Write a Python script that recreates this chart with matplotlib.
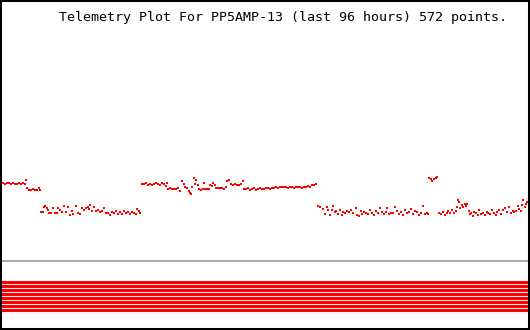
import matplotlib
matplotlib.use("Agg")
import matplotlib.pyplot as plt

# telemetry samples: time (hours into the 96 h window) and reading
hours = [
    0.2, 0.5, 0.9, 1.3, 1.6, 2.0, 2.4, 2.7, 3.1, 3.4, 3.8, 4.2, 4.5, 4.7,
    4.9, 5.3, 5.6, 6.0, 6.3, 6.7, 7.1, 7.2,
    7.4, 7.8, 8.0, 8.1, 8.5, 8.7, 8.9, 9.2, 9.6, 10.0, 10.3, 10.5, 10.9, 11.2,
    11.6, 12.0, 12.3, 12.7, 13.0, 13.2, 13.8, 14.1, 14.5, 14.9, 15.2, 15.6,
    15.9, 16.1, 16.3, 16.7, 17.0, 17.4, 17.7, 18.1, 18.5, 18.8, 19.2, 19.6,
    19.9, 20.3, 20.6, 21.0, 21.4, 21.7, 22.1, 22.5, 22.8, 23.2, 23.5, 23.9,
    24.3, 24.6, 24.8, 25.2, 25.4,
    25.7, 26.1, 26.4, 26.8, 27.2, 27.5, 27.9, 28.3, 28.6, 29.0, 29.3, 29.7,
    30.1, 30.2,
    30.4, 30.8, 31.2, 31.5, 31.9, 32.2, 32.6, 33.0, 33.3, 33.5, 33.9, 34.2,
    34.4, 34.6, 34.8, 35.1, 35.3, 35.5, 35.9, 36.0, 36.4, 36.8, 36.9, 37.1,
    37.5, 37.9, 38.0, 38.4, 38.6, 38.9, 39.1, 39.5, 39.8, 40.2, 40.6, 40.9,
    41.1, 41.5, 41.8, 42.2, 42.6, 42.9, 43.3, 43.6, 44.0, 44.2, 44.6, 44.9,
    45.3, 45.6, 46.0, 46.4, 46.7, 47.1, 47.5, 47.8, 48.2,
    48.5, 48.9, 49.3, 49.6, 50.0, 50.3, 50.7, 51.1, 51.4, 51.8, 52.2, 52.5,
    52.9, 53.2, 53.6, 54.0, 54.3, 54.7, 55.1, 55.4, 55.8, 56.1, 56.5, 56.9,
    57.2,
    57.6, 58.0, 58.5, 58.9, 59.2, 59.4, 59.8, 60.1, 60.3, 60.7, 60.9, 61.2,
    61.6, 61.9, 62.1, 62.5, 62.8, 63.2, 63.6, 63.9, 64.5, 64.7, 65.0, 65.4,
    65.6, 65.9, 66.3, 66.6, 67.0, 67.4, 67.7, 68.1, 68.5, 68.8, 69.2, 69.5,
    69.9, 70.1, 70.5, 70.8, 71.2, 71.5, 71.9, 72.3, 72.6, 73.0, 73.4, 73.7,
    74.1, 74.4, 74.8, 75.2, 75.5, 75.9, 76.3, 76.6, 77.0, 77.3, 77.5,
    77.7, 78.1, 78.2, 78.6, 79.0, 79.1,
    79.5, 79.9, 80.2, 80.6, 81.0, 81.1, 81.5, 81.9, 82.2, 82.6, 82.8, 82.9,
    83.1, 83.3, 83.7, 83.9, 84.2, 84.4, 84.6, 84.9, 85.1, 85.3, 85.7, 85.8,
    86.2, 86.6, 86.8, 87.1, 87.5, 87.8, 88.2, 88.4, 88.7, 89.1, 89.5, 89.8,
    90.0, 90.4, 90.7, 91.1, 91.5, 91.8, 92.2, 92.5, 92.9, 93.1, 93.5, 93.8,
    94.0, 94.4, 94.5, 94.7, 95.1, 95.3, 95.4,
]
reading = [
    77, 78, 77, 78, 78, 77, 78, 77, 77, 78, 77, 78, 77, 81,
    73, 71, 71, 72, 71, 71, 73, 71,
    49, 49, 54, 55, 53, 51, 48, 48, 53, 48, 48, 53, 51, 49,
    55, 49, 54, 46, 50, 47, 55, 48, 47, 53, 51, 53,
    54, 52, 56, 50, 54, 50, 51, 49, 50, 53, 48, 48,
    46, 49, 48, 50, 47, 49, 47, 50, 48, 49, 47, 49,
    48, 47, 52, 50, 48,
    77, 77, 78, 76, 77, 76, 77, 78, 77, 76, 78, 77,
    75, 78,
    72, 73, 72, 72, 72, 73, 70, 80, 77, 74, 73, 70,
    68, 67, 74, 83, 77, 81, 76, 72, 71, 72, 78, 72,
    72, 72, 76, 75, 78, 76, 73, 73, 73, 73, 72, 74,
    80, 81, 77, 76, 77, 76, 76, 77, 80, 72, 72, 73,
    71, 72, 73, 71, 72, 73, 72, 72, 73,
    73, 72, 73, 73, 74, 73, 74, 74, 74, 74, 73, 74,
    74, 73, 74, 74, 74, 73, 74, 74, 75, 74, 76, 76,
    77,
    55, 54, 52, 47, 54, 51, 46, 51, 55, 49, 50, 47,
    51, 46, 49, 48, 50, 49, 51, 48, 53, 46, 45, 50,
    47, 49, 48, 47, 51, 48, 46, 50, 48, 53, 49, 47,
    49, 53, 47, 48, 48, 54, 50, 47, 49, 46, 51, 48,
    49, 52, 47, 50, 49, 46, 48, 55, 47, 48, 47,
    83, 82, 80, 82, 83, 84,
    48, 47, 49, 46, 48, 50, 48, 51, 48, 50, 54, 61,
    59, 53, 56, 54, 57, 55, 57, 50, 47, 48, 45, 49,
    48, 46, 51, 47, 48, 46, 49, 48, 47, 51, 48, 46,
    49, 51, 47, 51, 53, 49, 54, 48, 50, 49, 50, 55,
    52, 50, 56, 61, 54, 57, 59,
]

# eight status bits, all set over the whole window
status_bits = [1, 1, 1, 1, 1, 1, 1, 1]

title = "Telemetry Plot For PP5AMP-13 (last 96 hours) 572 points."

fig = plt.figure(figsize=(5.3, 3.3), dpi=100)
ax = fig.add_axes([0, 0, 1, 1])
ax.set_xlim(0, 96)
ax.set_ylim(-69, 261)

ax.plot(hours, reading, ls="none", marker="s", ms=1.6, mew=0, color="red")

# zero line
ax.axhline(0, color="#aaaaaa", lw=1.5)

# status bit stripes
for i, b in enumerate(status_bits):
    if b:
        ax.axhline(-20.5 - 4 * i, color="red", lw=2.2)

ax.set_xticks([])
ax.set_yticks([])
for s in ax.spines.values():
    s.set_linewidth(2.9)
    s.set_color("black")

fig.text(283 / 530, 1 - 17 / 330, title, ha="center", va="center",
         family="DejaVu Sans Mono", fontsize=9.6)

fig.savefig("out.png", dpi=100, facecolor="white")
